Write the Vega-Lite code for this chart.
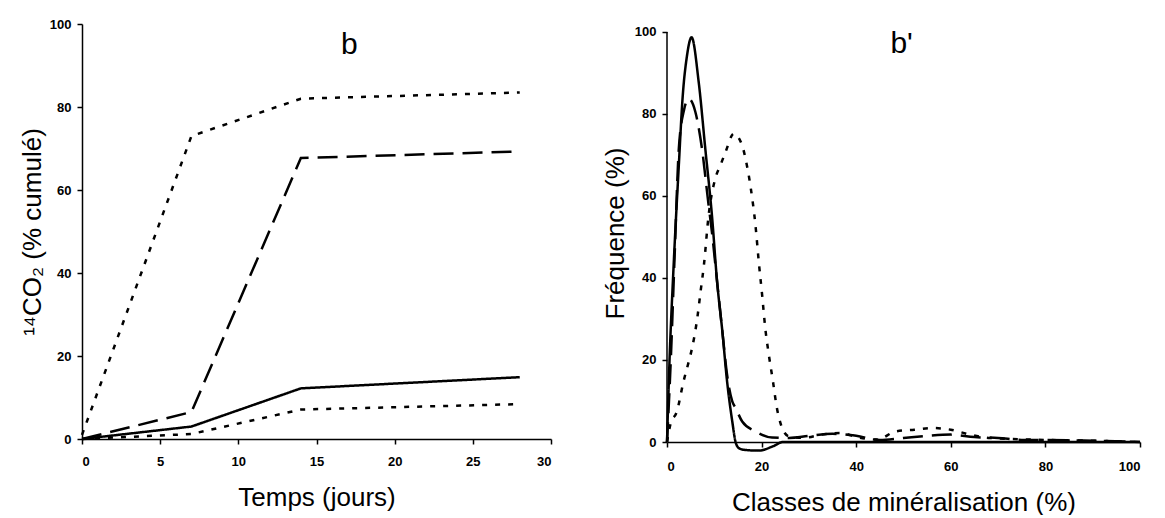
{
  "$schema": "https://vega.github.io/schema/vega-lite/v6.json",
  "padding": {"left": 19, "top": 18, "right": 5, "bottom": 0},
  "spacing": 50,
  "config": {
    "font": "Liberation Sans",
    "view": {"stroke": null},
    "axis": {
      "grid": false,
      "domainColor": "black",
      "tickColor": "black",
      "labelColor": "black",
      "titleColor": "black",
      "labelFont": "Liberation Sans",
      "titleFont": "Liberation Sans",
      "labelFontWeight": "bold",
      "labelFontSize": 13,
      "titleFontSize": 26,
      "titleFontWeight": "normal",
      "tickSize": 5,
      "domainWidth": 1.5,
      "tickWidth": 1.5,
      "labelPadding": 6
    }
  },
  "hconcat": [
    {
      "width": 469,
      "height": 415,
      "layer": [
        {
          "data": {"values": [
            {"t": 0, "v": 1, "serie": "p1"}, {"t": 7, "v": 73, "serie": "p1"}, {"t": 14, "v": 82, "serie": "p1"}, {"t": 28, "v": 83.5, "serie": "p1"},
            {"t": 0, "v": 0, "serie": "d"}, {"t": 7, "v": 6.5, "serie": "d"}, {"t": 14, "v": 67.7, "serie": "d"}, {"t": 28, "v": 69.3, "serie": "d"},
            {"t": 0, "v": 0, "serie": "s"}, {"t": 7, "v": 3, "serie": "s"}, {"t": 14, "v": 12.2, "serie": "s"}, {"t": 28, "v": 14.9, "serie": "s"},
            {"t": 0, "v": 0, "serie": "p2"}, {"t": 7, "v": 1.2, "serie": "p2"}, {"t": 14, "v": 7.1, "serie": "p2"}, {"t": 28, "v": 8.4, "serie": "p2"}
          ]},
          "mark": {"type": "line", "color": "black", "strokeWidth": 2.5},
          "encoding": {
            "x": {"field": "t", "type": "quantitative", "scale": {"domain": [0, 30], "nice": false},
                  "axis": {"values": [0, 5, 10, 15, 20, 25, 30], "title": "Temps (jours)", "labelPadding": 11, "titlePadding": 16}},
            "y": {"field": "v", "type": "quantitative", "scale": {"domain": [0, 100], "nice": false},
                  "axis": {"values": [0, 20, 40, 60, 80, 100], "title": "¹⁴CO₂ (% cumulé)", "titlePadding": 4}},
            "strokeDash": {"field": "serie", "type": "nominal",
                           "scale": {"domain": ["p1", "d", "s", "p2"], "range": [[5, 8], [20, 9], [1, 0], [5, 8]]},
                           "legend": null},
            "detail": {"field": "serie"}
          }
        },
        {
          "data": {"values": [{"t": 17.1, "v": 95, "lab": "b"}]},
          "mark": {"type": "text", "fontSize": 30, "font": "Liberation Sans", "color": "black"},
          "encoding": {
            "x": {"field": "t", "type": "quantitative"},
            "y": {"field": "v", "type": "quantitative"},
            "text": {"field": "lab"}
          }
        }
      ]
    },
    {
      "width": 473,
      "height": 418,
      "layer": [
        {
          "data": {"values": [{"c": 0, "f": 0, "f2": 100}]},
          "mark": {"type": "rule", "color": "black", "strokeWidth": 1.5},
          "encoding": {
            "x": {"field": "c", "type": "quantitative"},
            "y": {"field": "f", "type": "quantitative"},
            "y2": {"field": "f2"}
          }
        },
        {
          "data": {"values": [
            {"c": 0, "f": 0, "serie": "s"}, {"c": 0.5, "f": 18.8, "serie": "s"}, {"c": 1.4, "f": 43, "serie": "s"}, {"c": 2.5, "f": 67.5, "serie": "s"}, {"c": 3.3, "f": 84, "serie": "s"}, {"c": 4.2, "f": 94, "serie": "s"}, {"c": 5.2, "f": 98.7, "serie": "s"}, {"c": 6.7, "f": 87.8, "serie": "s"}, {"c": 8.1, "f": 71.5, "serie": "s"}, {"c": 9.5, "f": 55.3, "serie": "s"}, {"c": 10.6, "f": 39, "serie": "s"}, {"c": 11.7, "f": 27, "serie": "s"}, {"c": 12.7, "f": 14.8, "serie": "s"}, {"c": 13.8, "f": 5, "serie": "s"}, {"c": 14.5, "f": 0, "serie": "s"}, {"c": 15.2, "f": -1.5, "serie": "s"}, {"c": 16.3, "f": -1.9, "serie": "s"}, {"c": 19.4, "f": -2.1, "serie": "s"}, {"c": 22.5, "f": -1, "serie": "s"}, {"c": 24.5, "f": 0, "serie": "s"}, {"c": 100, "f": 0, "serie": "s"},
            {"c": 0, "f": 0, "serie": "d"}, {"c": 0.8, "f": 20, "serie": "d"}, {"c": 1.6, "f": 45, "serie": "d"}, {"c": 2.5, "f": 71.5, "serie": "d"}, {"c": 3.6, "f": 81, "serie": "d"}, {"c": 4.6, "f": 83.7, "serie": "d"}, {"c": 6, "f": 80.5, "serie": "d"}, {"c": 7.4, "f": 71.5, "serie": "d"}, {"c": 8.8, "f": 57.7, "serie": "d"}, {"c": 9.5, "f": 51.2, "serie": "d"}, {"c": 10.6, "f": 39, "serie": "d"}, {"c": 11.7, "f": 27, "serie": "d"}, {"c": 12.7, "f": 16.4, "serie": "d"}, {"c": 13.8, "f": 9.9, "serie": "d"}, {"c": 14.5, "f": 8.3, "serie": "d"}, {"c": 15.9, "f": 5, "serie": "d"}, {"c": 18.7, "f": 2.6, "serie": "d"}, {"c": 22.2, "f": 1.1, "serie": "d"}, {"c": 25.8, "f": 1, "serie": "d"}, {"c": 30, "f": 1.5, "serie": "d"}, {"c": 35, "f": 2, "serie": "d"}, {"c": 40, "f": 1.5, "serie": "d"}, {"c": 45, "f": 0.5, "serie": "d"}, {"c": 50, "f": 1, "serie": "d"}, {"c": 55, "f": 1.5, "serie": "d"}, {"c": 60, "f": 1.8, "serie": "d"}, {"c": 65, "f": 1.2, "serie": "d"}, {"c": 70, "f": 1, "serie": "d"}, {"c": 75, "f": 0.5, "serie": "d"}, {"c": 80, "f": 0.5, "serie": "d"}, {"c": 90, "f": 0.3, "serie": "d"}, {"c": 100, "f": 0, "serie": "d"},
            {"c": 0, "f": 0, "serie": "p"}, {"c": 0.7, "f": 4.2, "serie": "p"}, {"c": 2.1, "f": 7.5, "serie": "p"}, {"c": 3.5, "f": 14.8, "serie": "p"}, {"c": 4.6, "f": 19.6, "serie": "p"}, {"c": 5.3, "f": 22.9, "serie": "p"}, {"c": 6.4, "f": 30.2, "serie": "p"}, {"c": 7.1, "f": 36.7, "serie": "p"}, {"c": 7.8, "f": 43.1, "serie": "p"}, {"c": 8.8, "f": 55.3, "serie": "p"}, {"c": 10.2, "f": 64.2, "serie": "p"}, {"c": 11.3, "f": 67.5, "serie": "p"}, {"c": 12.4, "f": 70.8, "serie": "p"}, {"c": 14.1, "f": 75.2, "serie": "p"}, {"c": 15.9, "f": 72.3, "serie": "p"}, {"c": 16.6, "f": 69.1, "serie": "p"}, {"c": 17.7, "f": 62, "serie": "p"}, {"c": 18.7, "f": 52.9, "serie": "p"}, {"c": 19.4, "f": 44, "serie": "p"}, {"c": 20.1, "f": 36, "serie": "p"}, {"c": 20.8, "f": 27.5, "serie": "p"}, {"c": 21.5, "f": 21.5, "serie": "p"}, {"c": 22.4, "f": 14.8, "serie": "p"}, {"c": 23.2, "f": 8.5, "serie": "p"}, {"c": 24.1, "f": 4.2, "serie": "p"}, {"c": 25.7, "f": 1.4, "serie": "p"}, {"c": 28.8, "f": 1, "serie": "p"}, {"c": 32.7, "f": 1.8, "serie": "p"}, {"c": 36.6, "f": 2.2, "serie": "p"}, {"c": 40.5, "f": 1.1, "serie": "p"}, {"c": 44.4, "f": 0.6, "serie": "p"}, {"c": 48.4, "f": 2.6, "serie": "p"}, {"c": 52.3, "f": 3, "serie": "p"}, {"c": 56.2, "f": 3.4, "serie": "p"}, {"c": 60, "f": 3, "serie": "p"}, {"c": 64, "f": 1.8, "serie": "p"}, {"c": 68, "f": 1, "serie": "p"}, {"c": 80, "f": 0.5, "serie": "p"}, {"c": 90, "f": 0.3, "serie": "p"}, {"c": 100, "f": 0, "serie": "p"}
          ]},
          "mark": {"type": "line", "color": "black", "strokeWidth": 2.5, "interpolate": "monotone"},
          "encoding": {
            "x": {"field": "c", "type": "quantitative", "scale": {"domain": [0, 100], "nice": false},
                  "axis": {"values": [0, 20, 40, 60, 80, 100], "title": "Classes de minéralisation (%)", "labelPadding": 13, "titlePadding": 16}},
            "y": {"field": "f", "type": "quantitative", "scale": {"domain": [0, 101.95], "nice": false, "zero": false},
                  "axis": {"values": [0, 20, 40, 60, 80, 100], "title": "Fréquence (%)", "titlePadding": 6, "domain": false}},
            "strokeDash": {"field": "serie", "type": "nominal",
                           "scale": {"domain": ["s", "d", "p"], "range": [[1, 0], [20, 9], [5, 8]]},
                           "legend": null},
            "detail": {"field": "serie"}
          }
        },
        {
          "data": {"values": [{"c": 49.6, "f": 97, "lab": "b'"}]},
          "mark": {"type": "text", "fontSize": 30, "font": "Liberation Sans", "color": "black"},
          "encoding": {
            "x": {"field": "c", "type": "quantitative"},
            "y": {"field": "f", "type": "quantitative"},
            "text": {"field": "lab"}
          }
        }
      ]
    }
  ]
}
